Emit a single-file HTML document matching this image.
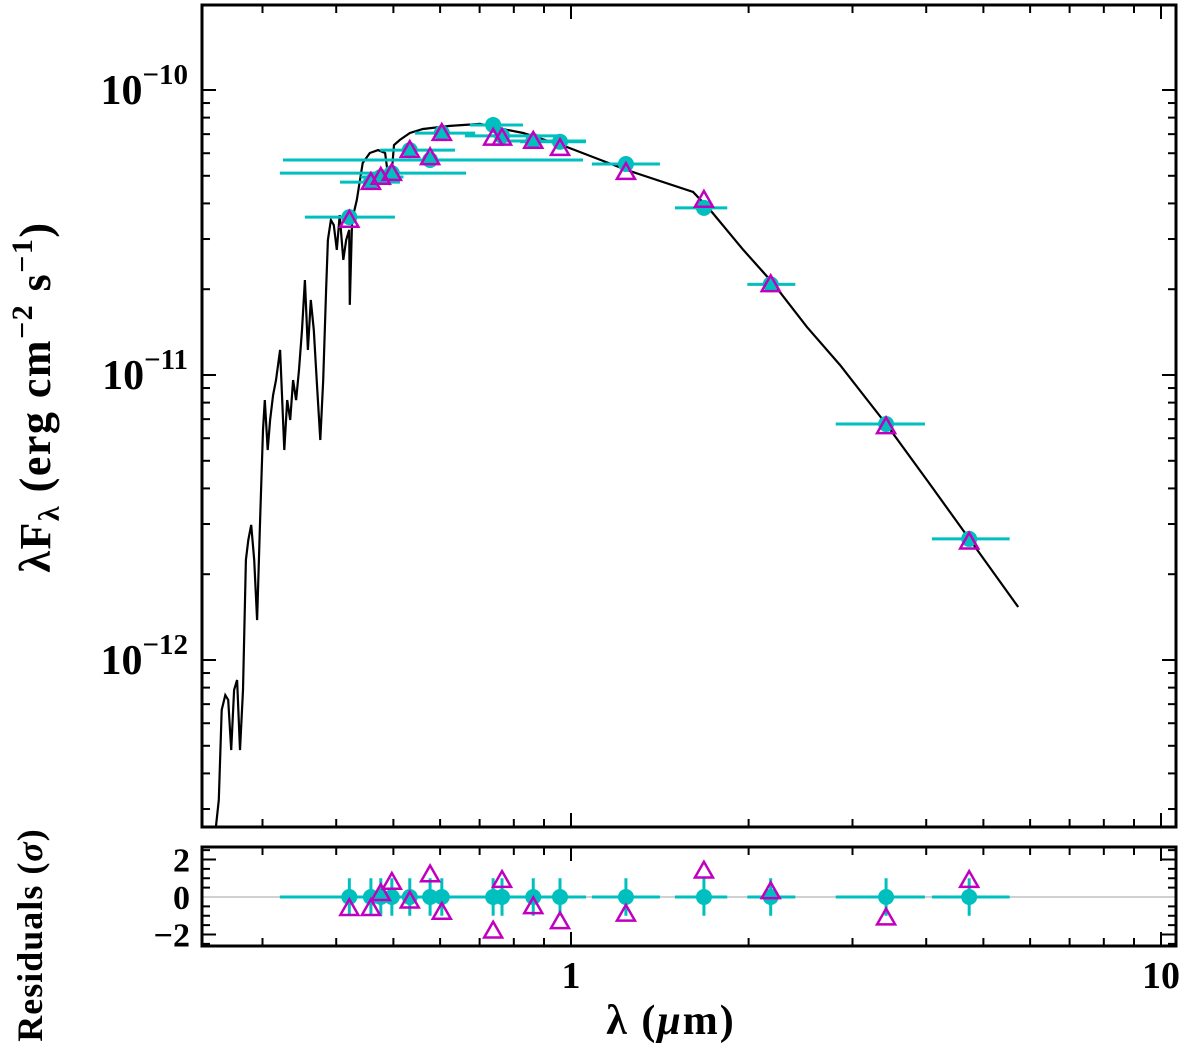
<!DOCTYPE html>
<html><head><meta charset="utf-8">
<style>
html,body{margin:0;padding:0;background:#fff;}
svg{display:block;}
text{font-family:"Liberation Serif",serif;font-weight:bold;fill:#000;}
</style></head>
<body>
<svg id="chart" width="1200" height="1050" viewBox="0 0 1200 1050" xmlns="http://www.w3.org/2000/svg"></svg>
<script>
// ---- data ----
const modelLogLam = [-0.602,-0.597,-0.592,-0.586,-0.581,-0.576,-0.571,-0.566,-0.561,-0.556,-0.551,-0.547,-0.542,-0.537,-0.532,-0.527,-0.522,-0.519,-0.514,-0.510,-0.505,-0.500,-0.493,-0.486,-0.481,-0.476,-0.471,-0.466,-0.461,-0.456,-0.451,-0.446,-0.441,-0.436,-0.431,-0.425,-0.420,-0.415,-0.412,-0.407,-0.402,-0.397,-0.392,-0.386,-0.381,-0.376,-0.375,-0.371,-0.363,-0.353,-0.341,-0.327,-0.315,-0.308,-0.305,-0.300,-0.290,-0.273,-0.251,-0.205,-0.154,-0.108,-0.081,-0.007,0.095,0.207,0.236,0.292,0.342,0.400,0.456,0.534,0.608,0.675,0.758];
const modelLogFlux = [-12.589,-12.491,-12.175,-12.123,-12.140,-12.316,-12.105,-12.070,-12.316,-12.105,-11.649,-11.579,-11.526,-11.649,-11.860,-11.509,-11.193,-11.088,-11.263,-11.158,-11.070,-11.018,-10.912,-11.263,-11.088,-11.158,-11.018,-11.088,-10.982,-10.842,-10.667,-10.912,-10.737,-10.842,-11.018,-11.228,-11.018,-10.702,-10.526,-10.456,-10.474,-10.561,-10.439,-10.596,-10.526,-10.491,-10.754,-10.456,-10.386,-10.256,-10.221,-10.211,-10.221,-10.333,-10.316,-10.193,-10.175,-10.151,-10.137,-10.126,-10.119,-10.140,-10.151,-10.200,-10.281,-10.358,-10.421,-10.561,-10.677,-10.832,-10.965,-11.172,-11.382,-11.575,-11.814];
const obsLam   = [0.421,0.458,0.476,0.497,0.533,0.577,0.604,0.738,0.764,0.863,0.958,1.239,1.680,2.18,3.42,4.73];
const obsLamLo = [0.354,0.406,0.440,0.321,0.475,0.325,0.544,0.674,0.661,0.773,0.820,1.085,1.50,1.99,2.81,4.09];
const obsLamHi = [0.503,0.513,0.520,0.664,0.636,1.048,0.688,0.829,0.958,1.06,1.06,1.415,1.84,2.40,3.98,5.54];
const obsFlux  = [3.58e-11,4.75e-11,4.95e-11,5.11e-11,6.15e-11,5.68e-11,7.06e-11,7.54e-11,6.9e-11,6.62e-11,6.58e-11,5.50e-11,3.86e-11,2.08e-11,6.73e-12,2.66e-12];
const synFlux  = [3.50e-11,4.75e-11,4.95e-11,5.11e-11,6.15e-11,5.80e-11,7.06e-11,6.79e-11,6.79e-11,6.62e-11,6.25e-11,5.15e-11,4.11e-11,2.08e-11,6.60e-12,2.60e-12];
const residObs = [0,0,0,0,0,0,0,0,0,0,0,0,0,0,0,0];
const residSyn = [-0.6,-0.6,0.2,0.8,-0.2,1.2,-0.8,-1.8,0.9,-0.5,-1.3,-0.9,1.4,0.3,-1.1,0.9];
const yTickExp = [-10,-11,-12];
const xTickLabels = ["1","10"];
const xTickVals = [1,10];
const rTickVals = [2,0,-2];
const rTickLabels = ["2","0","\u22122"];

// ---- axes ----
const L=202,R=1176,T=5,B=827, RT=847,RB=946;
const xs = l => 571 + 590*Math.log10(l);
const xsLog = g => 571 + 590*g;
const ysLog = g => 90 - 285*(g+10);
const ys = f => ysLog(Math.log10(f));
const yr = r => 897 - 18.75*r;
const CY="#00bfbf", MG="#bf00bf";
const svg=document.getElementById('chart');
const NS="http://www.w3.org/2000/svg";
function mk(tag,attrs,parent){const e=document.createElementNS(NS,tag);for(const k in attrs)e.setAttribute(k,attrs[k]);(parent||svg).appendChild(e);return e;}

const defs=mk('defs',{});
const c1=mk('clipPath',{id:'cm'},defs);mk('rect',{x:L,y:T,width:R-L,height:B-T},c1);
const c2=mk('clipPath',{id:'cr'},defs);mk('rect',{x:L,y:RT,width:R-L,height:RB-RT},c2);

// ticks
const tk=mk('g',{stroke:'#000','stroke-width':2});


for(let d=-1;d<=1;d++){for(let m=1;m<=9;m++){const v=m*Math.pow(10,d);const x=xs(v);if(x<L||x>R)continue;const len=m===1?14:8;
  [[B,B-len],[T,T+len],[RB,RB-len],[RT,RT+len]].forEach(p=>mk('line',{x1:x,x2:x,y1:p[0],y2:p[1]},tk));}}
for(let d=-13;d<=-9;d++){for(let m=1;m<=9;m++){const v=m*Math.pow(10,d);const y=ys(v);if(y<T||y>B)continue;const len=m===1?14:8;
  mk('line',{x1:L,x2:L+len,y1:y,y2:y},tk);mk('line',{x1:R,x2:R-len,y1:y,y2:y},tk);}}
for(let r=-2.5;r<=2.5;r+=0.5){const y=yr(r);if(y<RT||y>RB)continue;const len=(r%2===0)?14:8;
  mk('line',{x1:L,x2:L+len,y1:y,y2:y},tk);mk('line',{x1:R,x2:R-len,y1:y,y2:y},tk);}

// main panel
const gm=mk('g',{'clip-path':'url(#cm)'});


let d='';modelLogLam.forEach((g,i)=>{d+=(i?'L':'M')+xsLog(g).toFixed(1)+','+ysLog(modelLogFlux[i]).toFixed(1);});
const mp=mk('path',{d:d,fill:'none',stroke:'#000','stroke-width':2.2},gm);


obsLam.forEach((l,i)=>{const y=ys(obsFlux[i]);
  const e=mk('line',{x1:xs(obsLamLo[i]),x2:xs(obsLamHi[i]),y1:y,y2:y,stroke:CY,'stroke-width':3},gm);
  
  });
obsLam.forEach((l,i)=>{const c=mk('circle',{cx:xs(l),cy:ys(obsFlux[i]),r:8,fill:CY},gm);
  
  });
function tri(g,x,y){const s=9;const t=mk('polygon',{points:`${x},${y-s} ${x-s},${y+s*0.75} ${x+s},${y+s*0.75}`,fill:'none',stroke:MG,'stroke-width':2.5},g);return t;}
obsLam.forEach((l,i)=>{const t=tri(gm,xs(l),ys(synFlux[i]));
  
  });

// residual panel
const gr=mk('g',{'clip-path':'url(#cr)'});


mk('line',{x1:L,x2:R,y1:yr(0),y2:yr(0),stroke:'#d0d0d0','stroke-width':2},gr);
obsLam.forEach((l,i)=>{const y=yr(residObs[i]);
  mk('line',{x1:xs(obsLamLo[i]),x2:xs(obsLamHi[i]),y1:y,y2:y,stroke:CY,'stroke-width':3},gr);
  mk('line',{x1:xs(l),x2:xs(l),y1:yr(residObs[i]+1),y2:yr(residObs[i]-1),stroke:CY,'stroke-width':3},gr);});
obsLam.forEach((l,i)=>{const c=mk('circle',{cx:xs(l),cy:yr(residObs[i]),r:8,fill:CY},gr);
  
  });
obsLam.forEach((l,i)=>{const t=tri(gr,xs(l),yr(residSyn[i]));
  
  });

// frames
const f1=mk('rect',{x:L,y:T,width:R-L,height:B-T,fill:'none',stroke:'#000','stroke-width':3});


const f2=mk('rect',{x:L,y:RT,width:R-L,height:RB-RT,fill:'none',stroke:'#000','stroke-width':3});



// labels
yTickExp.forEach(e=>{const y=ys(Math.pow(10,e));
  const t=mk('text',{x:188,y:y+14,'text-anchor':'end','font-size':42});
  t.innerHTML='10<tspan dy="-20" font-size="29">\u2212'+(-e)+'</tspan>';
  
  });
rTickVals.forEach((r,i)=>{const t=mk('text',{x:190,y:yr(r)+12,'text-anchor':'end','font-size':34});
  t.textContent=rTickLabels[i];
  
  });
xTickVals.forEach((v,i)=>{const t=mk('text',{x:xs(v),y:988,'text-anchor':'middle','font-size':38});
  t.textContent=xTickLabels[i];
  
  });
const xl=mk('text',{x:671,y:1034,'text-anchor':'middle','font-size':42,'letter-spacing':2});
xl.innerHTML='\u03bb (<tspan font-style="italic">\u03bc</tspan>m)';


const yl=mk('text',{x:0,y:0,'text-anchor':'middle','font-size':44,'letter-spacing':1.5,transform:'translate(50,397) rotate(-90)'});
yl.innerHTML='\u03bbF<tspan dy="9" font-size="30">\u03bb</tspan><tspan dy="-9"> (erg cm</tspan><tspan dy="-18" font-size="30">\u22122</tspan><tspan dy="18"> s</tspan><tspan dy="-18" font-size="30">\u22121</tspan><tspan dy="18">)</tspan>';


const rl=mk('text',{x:0,y:0,'text-anchor':'middle','font-size':36,'letter-spacing':1,transform:'translate(42,935) rotate(-90)'});
rl.innerHTML='Residuals (<tspan font-style="italic">\u03c3</tspan>)';


</script>
</body></html>
